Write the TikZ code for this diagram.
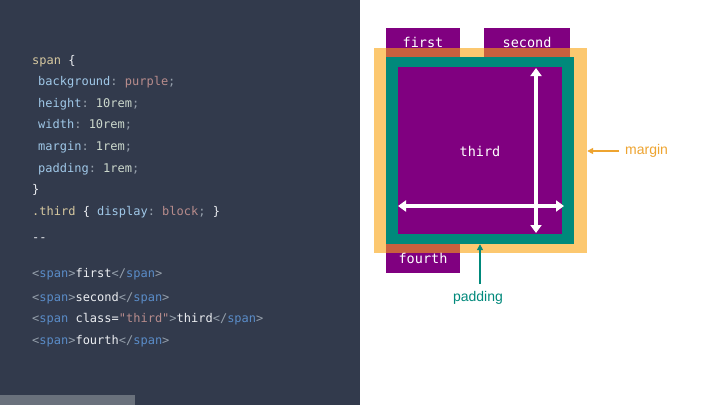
\documentclass[tikz,border=0pt]{standalone}
\usepackage{fontspec}
\setsansfont{Liberation Sans}
\setmonofont{DejaVu Sans Mono}
\usetikzlibrary{arrows.meta}

% Colori
\definecolor{sfondo}{RGB}{50,58,76}
\definecolor{barra}{RGB}{106,113,124}
\definecolor{viola}{RGB}{128,0,128}
\definecolor{margine}{RGB}{252,200,112}
\definecolor{sovrap}{RGB}{200,96,62}
\definecolor{verdeacqua}{RGB}{0,137,123}
\definecolor{arancio}{RGB}{238,164,48}
\definecolor{cSel}{RGB}{214,200,160}
\definecolor{cProp}{RGB}{160,200,232}
\definecolor{cVal}{RGB}{184,140,140}
\definecolor{cNum}{RGB}{204,216,204}
\definecolor{cPunt}{RGB}{150,160,172}
\definecolor{cTag}{RGB}{90,140,200}
\definecolor{cTesto}{RGB}{236,238,242}

% Evidenziazione del codice
\newcommand{\selettore}[1]{\textcolor{cSel}{#1}}
\newcommand{\proprieta}[1]{\textcolor{cProp}{#1}}
\newcommand{\valore}[1]{\textcolor{cVal}{#1}}
\newcommand{\numero}[1]{\textcolor{cNum}{#1}}
\newcommand{\punt}[1]{\textcolor{cPunt}{#1}}
\newcommand{\etich}[1]{\textcolor{cTag}{#1}}

\begin{document}
\begin{tikzpicture}[
        x=1pt, y=-1pt,
        % Righe di codice
        codice/.style={
            anchor=base west,
            inner sep=0pt,
            text=cTesto,
            font=\ttfamily\fontsize{12}{14}\selectfont
        },
        % Scatole degli span
        scatola/.style={
            fill=viola,
            inner sep=0pt
        },
        etichetta/.style={
            text=white,
            inner sep=0pt,
            font=\ttfamily\fontsize{13.5}{16}\selectfont
        },
        % Frecce bianche interne
        freccia/.style={
            white,
            line width=4pt,
            {Triangle[length=8pt,width=11pt]}-{Triangle[length=8pt,width=11pt]}
        },
        nota/.style={
            font=\sffamily\fontsize{14}{16}\selectfont,
            inner sep=1pt
        }
    ]

    \useasboundingbox (0,0) rectangle (720,405);
    \fill[white] (0,0) rectangle (720,405);

    % --- Pannello del codice ---
    \fill[sfondo] (0,0) rectangle (360,405);
    \fill[barra] (0,395) rectangle (135,405);

    \node[codice] (r1) at (32,64) {\selettore{span} \{};
    \node[codice] (r2) at (38,85) {\proprieta{background}\punt{:} \valore{purple}\punt{;}};
    \node[codice] (r3) at (38,107) {\proprieta{height}\punt{:} \numero{10rem}\punt{;}};
    \node[codice] (r4) at (38,128) {\proprieta{width}\punt{:} \numero{10rem}\punt{;}};
    \node[codice] (r5) at (38,150) {\proprieta{margin}\punt{:} \numero{1rem}\punt{;}};
    \node[codice] (r6) at (38,172) {\proprieta{padding}\punt{:} \numero{1rem}\punt{;}};
    \node[codice] (r7) at (32,193) {\}};
    \node[codice] (r8) at (32,215) {\selettore{.third} \{ \proprieta{display}\punt{:} \valore{block}\punt{;} \}};
    \node[codice] (r9) at (32,241) {-{}-};
    \node[codice] (r10) at (32,277) {\punt{<}\etich{span}\punt{>}first\punt{</}\etich{span}\punt{>}};
    \node[codice] (r11) at (32,301) {\punt{<}\etich{span}\punt{>}second\punt{</}\etich{span}\punt{>}};
    \node[codice] (r12) at (32,322) {\punt{<}\etich{span} class=\valore{"third"}\punt{>}third\punt{</}\etich{span}\punt{>}};
    \node[codice] (r13) at (32,344) {\punt{<}\etich{span}\punt{>}fourth\punt{</}\etich{span}\punt{>}};

    % --- Margine dello span "third" ---
    \node[fill=margine, inner sep=0pt, minimum width=213pt, minimum height=205pt] (M) at (480.5,150.5) {};

    % --- Span in linea ---
    \node[scatola, minimum width=74pt, minimum height=29pt] (first) at (423,42.5) {};
    \node[scatola, minimum width=86pt, minimum height=29pt] (second) at (527,42.5) {};
    \node[scatola, minimum width=74pt, minimum height=29pt] (fourth) at (423,258.5) {};

    % Sovrapposizione con il margine
    \fill[sovrap] (first.south west) rectangle (first.east |- M.north);
    \fill[sovrap] (second.south west) rectangle (second.east |- M.north);
    \fill[sovrap] (fourth.north west) rectangle (fourth.east |- M.south);

    \node[etichetta] at (first) {first};
    \node[etichetta] at (second) {second};
    \node[etichetta] at (fourth) {fourth};

    % --- Padding e contenuto ---
    \node[fill=verdeacqua, inner sep=0pt, minimum width=188pt, minimum height=187pt] (P) at (480,150.5) {};
    \node[scatola, minimum width=164pt, minimum height=167pt] (C) at (480,150.5) {};
    \node[etichetta] (T) at (480,151) {third};

    % Frecce di altezza e larghezza
    \coordinate (alto) at (536,68);
    \coordinate (basso) at (536,233);
    \coordinate (sx) at (398,206);
    \coordinate (dx) at (564,206);
    \draw[freccia] (alto) -- (basso);
    \draw[freccia] (sx) -- (dx);

    % --- Annotazioni ---
    \node[nota, text=arancio, anchor=west] (lm) at (624,151) {margin};
    \draw[arancio, line width=1.5pt, shorten <=5pt, -{Triangle[length=6pt,width=6pt]}] (lm.west) -- (lm.west -| M.east);

    \node[nota, text=verdeacqua] (lp) at (478,298) {padding};
    \coordinate (pp) at (480,284);
    \draw[verdeacqua, line width=1.5pt, -{Triangle[length=6pt,width=6pt]}] (pp) -- (pp |- P.south);

\end{tikzpicture}
\end{document}
